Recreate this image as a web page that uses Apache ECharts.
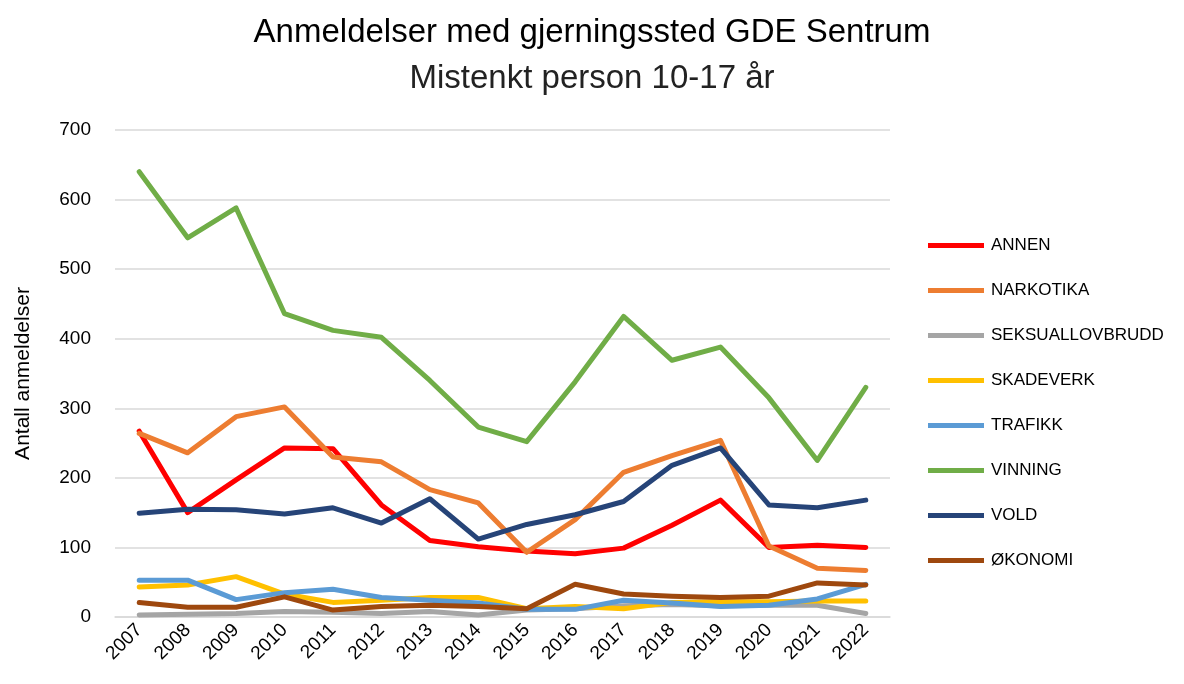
<!DOCTYPE html>
<html>
<head>
<meta charset="utf-8">
<script src="https://cdn.jsdelivr.net/npm/echarts@6/dist/echarts.min.js"></script>
<style>
  html, body { margin: 0; padding: 0; background: #fff; }
  #chart { width: 1184px; height: 684px; }
</style>
</head>
<body>
<div id="chart"></div>
<script>
// år
const years = ['2007','2008','2009','2010','2011','2012','2013','2014','2015','2016','2017','2018','2019','2020','2021','2022'];

const annen       = [267, 150, 197, 243, 242, 161, 110, 101, 95, 91, 99, 132, 168, 100, 103, 100];
const narkotika   = [264, 236, 288, 302, 230, 223, 183, 164, 93, 140, 208, 232, 254, 102, 70, 67];
const seksual     = [3, 4, 5, 8, 7, 5, 8, 3, 10, 12, 16, 18, 16, 17, 17, 5];
const skadeverk   = [43, 46, 58, 33, 21, 24, 28, 28, 12, 15, 12, 21, 22, 22, 23, 23];
const trafikk     = [53, 53, 25, 35, 40, 28, 24, 20, 11, 11, 24, 20, 15, 17, 26, 47];
const vinning     = [640, 545, 588, 436, 412, 402, 340, 273, 252, 338, 432, 369, 388, 315, 225, 330];
const vold        = [149, 155, 154, 148, 157, 135, 170, 112, 133, 147, 166, 218, 243, 161, 157, 168];
const okonomi     = [21, 14, 14, 29, 10, 15, 17, 15, 12, 47, 33, 30, 28, 30, 49, 46];

const seriesDefs = [
  { name: 'ANNEN', data: annen, color: '#FF0000' },
  { name: 'NARKOTIKA', data: narkotika, color: '#ED7D31' },
  { name: 'SEKSUALLOVBRUDD', data: seksual, color: '#A5A5A5' },
  { name: 'SKADEVERK', data: skadeverk, color: '#FFC000' },
  { name: 'TRAFIKK', data: trafikk, color: '#5B9BD5' },
  { name: 'VINNING', data: vinning, color: '#70AD47' },
  { name: 'VOLD', data: vold, color: '#264478' },
  { name: 'ØKONOMI', data: okonomi, color: '#9E480E' }
];

const font = 'Liberation Sans, Arial, sans-serif';
const chart = echarts.init(document.getElementById('chart'));

chart.setOption({
  animation: false,
  color: seriesDefs.map(s => s.color),
  title: [
    {
      text: 'Anmeldelser med gjerningssted GDE Sentrum',
      left: 'center', top: 11,
      textStyle: { fontFamily: font, fontSize: 33, fontWeight: 'normal', color: '#000' }
    },
    {
      text: 'Mistenkt person 10-17 år',
      left: 'center', top: 57,
      textStyle: { fontFamily: font, fontSize: 33, fontWeight: 'normal', color: '#222' }
    }
  ],
  grid: { left: 115, right: 294, top: 130, bottom: 67 },
  legend: {
    orient: 'vertical',
    left: 923, top: 232,
    itemWidth: 56, itemHeight: 5,
    itemGap: 28,
    icon: 'rect',
    textStyle: { fontFamily: font, fontSize: 17, color: '#000', padding: [0, 0, 0, 2] },
    data: seriesDefs.map(s => s.name)
  },
  xAxis: {
    type: 'category',
    data: years,
    boundaryGap: true,
    axisLine: { lineStyle: { color: '#d9d9d9', width: 1.5 } },
    axisTick: { show: false },
    axisLabel: { rotate: 45, fontFamily: font, fontSize: 19, color: '#000', margin: 10, interval: 0 }
  },
  yAxis: {
    type: 'value',
    min: 0, max: 700, interval: 100,
    name: 'Antall anmeldelser',
    nameLocation: 'middle',
    nameGap: 81,
    nameTextStyle: { fontFamily: font, fontSize: 21, color: '#000' },
    axisLine: { show: false },
    axisTick: { show: false },
    axisLabel: { fontFamily: font, fontSize: 19, color: '#000', margin: 24 },
    splitLine: { lineStyle: { color: '#d9d9d9', width: 1.5 } }
  },
  series: seriesDefs.map(s => ({
    name: s.name,
    type: 'line',
    data: s.data,
    symbol: 'none',
    lineStyle: { width: 5, color: s.color, cap: 'round', join: 'round' },
    itemStyle: { color: s.color }
  }))
});
</script>
</body>
</html>
